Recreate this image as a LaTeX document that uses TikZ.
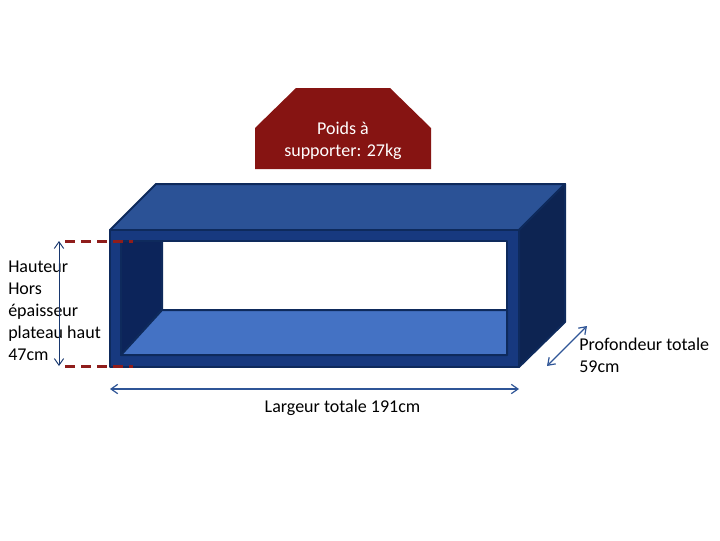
\documentclass[tikz,border=0pt]{standalone}
\usepackage{fontspec}
\setmainfont{Carlito}
\usetikzlibrary{arrows.meta}
\definecolor{frontblue}{HTML}{17397F}
\definecolor{topblue}{HTML}{2B5296}
\definecolor{sideblue}{HTML}{0D2452}
\definecolor{wallblue}{HTML}{0C245A}
\definecolor{floorblue}{HTML}{4472C4}
\definecolor{edgeblue}{HTML}{0E2A5C}
\definecolor{redbox}{HTML}{861412}
\definecolor{reddash}{HTML}{8F1D1B}
\definecolor{arrowblue}{HTML}{2F5597}
\tikzset{
  face/.style={draw=edgeblue,line width=1.5pt,line join=round},
  dimarrow/.style={draw=arrowblue,line width=0.9pt,{Straight Barb[length=5pt,width=7pt]}-{Straight Barb[length=5pt,width=7pt]}},
  darkarrow/.style={dimarrow,line width=0.7pt,draw=edgeblue!70!arrowblue},
  reddashed/.style={draw=reddash,line width=2.4pt,dash pattern=on 7.5pt off 4.5pt},
  lab/.style={font=\fontsize{13.5}{16.5}\selectfont,text=black,inner sep=0pt,align=left,anchor=north west},
}
\begin{document}
\begin{tikzpicture}[x=0.75pt,y=-0.75pt]
\useasboundingbox (0,0) rectangle (720,540);
\fill[white] (0,0) rectangle (720,540);
% load shape
\fill[redbox] (296,88) -- (390,88) -- (431,128) -- (431,169) -- (255,169) -- (255,128) -- cycle;
\node[font=\fontsize{13.5}{16.5}\selectfont,text=white,align=center,inner sep=0pt] (poids) at (343,141) {Poids à\\supporter: 27kg};
% box
\draw[face,fill=topblue] (110,230) -- (156,184) -- (565,184) -- (519,230) -- cycle;
\draw[face,fill=sideblue] (519,230) -- (565,184) -- (565,322) -- (519,367) -- cycle;
\draw[face,fill=frontblue] (110,230) rectangle (519,367);
\fill[white] (121,241) rectangle (507,355);
\draw[face,fill=wallblue] (121,241) -- (162,241) -- (162,310) -- (121,355) -- cycle;
\draw[face,fill=floorblue] (121,355) -- (162,310) -- (507,310) -- (507,355) -- cycle;
\draw[face] (121,241) rectangle (507,355);
% coordinates
\coordinate (htop) at (59,241);
\coordinate (hbot) at (59,366);
\coordinate (dt1) at (65,241.5);
\coordinate (dt2) at (133,241.5);
\coordinate (db1) at (65,366.5);
\coordinate (db2) at (133,366.5);
\coordinate (w1) at (110,389);
\coordinate (w2) at (519,389);
\coordinate (p1) at (587,326);
\coordinate (p2) at (547,366);
% dashes
\draw[reddashed] (dt1) -- (dt2);
\draw[reddashed] (db1) -- (db2);
% text
\node[lab] (hauteur) at (8,261) {Hauteur\\Hors\\épaisseur\\plateau haut\\47cm};
\node[lab] (prof) at (579,338) {Profondeur totale\\59cm};
\node[font=\fontsize{13.5}{16.5}\selectfont,inner sep=0pt] (larg) at (342.5,408) {Largeur totale 191cm};
% arrows
\draw[darkarrow] (htop) -- (hbot);
\draw[dimarrow] (w1) -- (w2);
\draw[dimarrow] (p1) -- (p2);
\end{tikzpicture}
\end{document}
